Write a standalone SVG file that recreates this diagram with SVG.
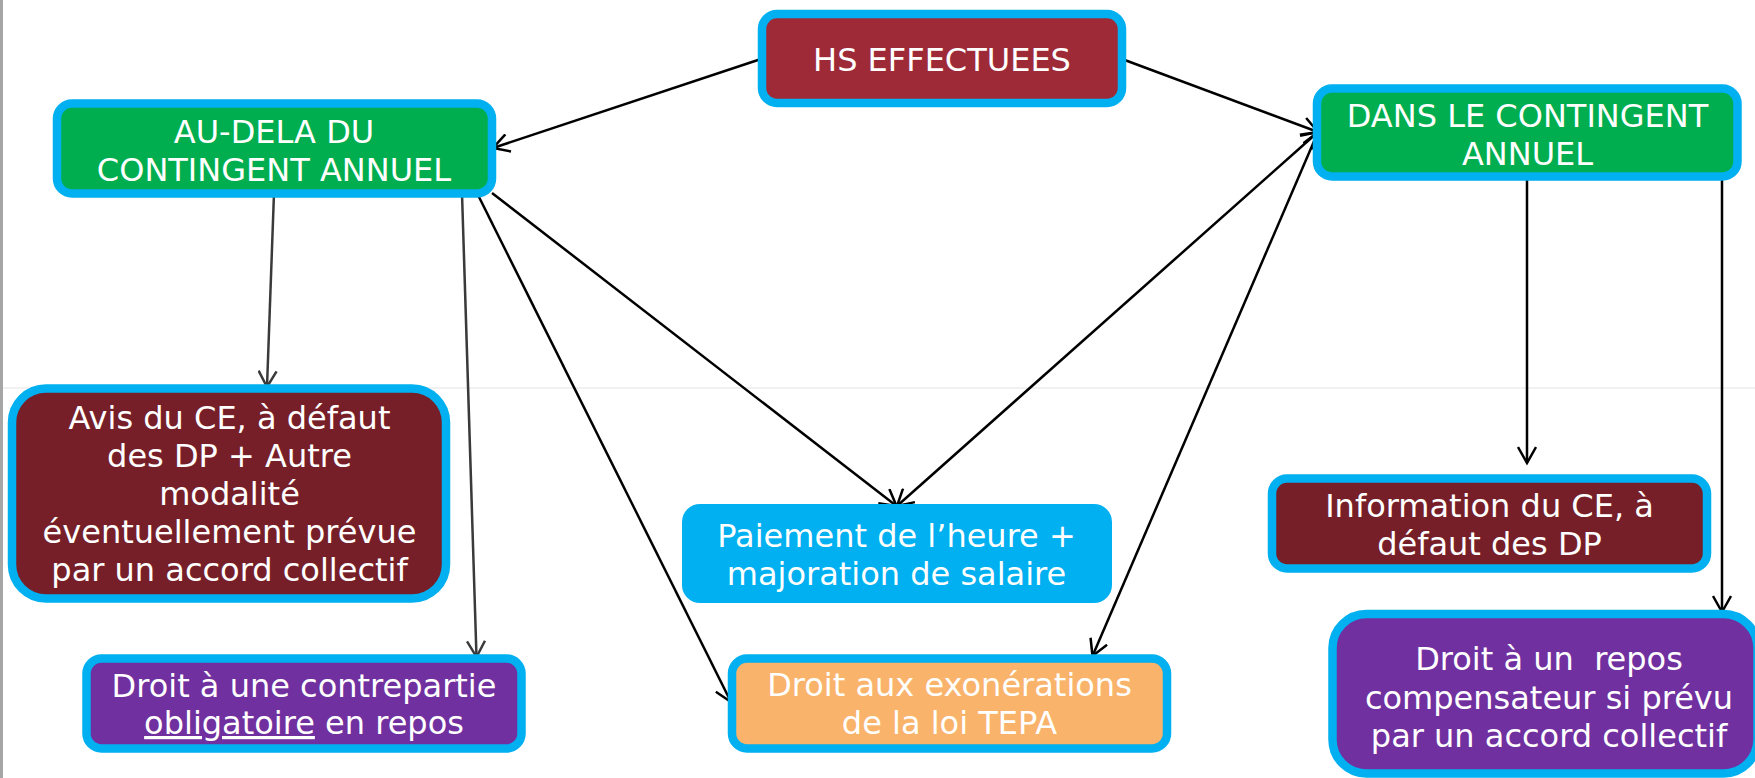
<svg xmlns="http://www.w3.org/2000/svg" width="1755" height="778" viewBox="0 0 1755 778">
<style>
.bd{stroke:#00B0F0;stroke-width:8.5}
.t{font-family:"DejaVu Sans","Verdana",sans-serif;font-size:32px;fill:#FFFFFF;text-anchor:middle}
.c{fill:none;stroke:#000;stroke-width:2.5}
.g{stroke:#3a3a3a}
</style>
<defs>
<marker id="ah" viewBox="0 0 20 20" markerWidth="20" markerHeight="20" refX="17" refY="10" orient="auto-start-reverse" markerUnits="userSpaceOnUse">
<path d="M1,1 L17,10 L1,19" fill="none" stroke="#000" stroke-width="2.5"/>
</marker>
<marker id="ahg" viewBox="0 0 20 20" markerWidth="20" markerHeight="20" refX="17" refY="10" orient="auto-start-reverse" markerUnits="userSpaceOnUse">
<path d="M1,1 L17,10 L1,19" fill="none" stroke="#3a3a3a" stroke-width="2.5"/>
</marker>
</defs>
<rect x="0" y="0" width="1755" height="778" fill="#FFFFFF"/>
<line x1="2" y1="388" x2="1755" y2="388" stroke="#ececec" stroke-width="1.5"/>
<line x1="1.5" y1="0" x2="1.5" y2="778" stroke="#a6a6a6" stroke-width="3"/>

<g id="connectors">
<path class="c" d="M761,59 L493,148" marker-end="url(#ah)"/>
<path class="c" d="M1122,59 L1318,132" marker-end="url(#ah)"/>
<path class="c g" d="M274,193 L267,387" marker-end="url(#ahg)"/>
<path class="c g" d="M462,193 L476.5,657" marker-end="url(#ahg)"/>
<path class="c" d="M477,193 L731,702" marker-end="url(#ah)"/>
<path class="c" d="M492,193 L896.5,506" marker-end="url(#ah)"/>
<path class="c" d="M1318,132 L897,506" marker-start="url(#ah)" marker-end="url(#ah)"/>
<path class="c" d="M1318,132 L1092.5,656" marker-start="url(#ah)" marker-end="url(#ah)"/>
<path class="c" d="M1527,179 L1527,463" marker-end="url(#ah)"/>
<path class="c" d="M1722,179 L1722,612" marker-end="url(#ah)"/>
</g>

<g id="hs">
<rect class="bd" x="762" y="14" width="360" height="89" rx="15" fill="#9E2A38"/>
<text class="t" x="942" y="71">HS EFFECTUEES</text>
</g>

<g id="audela">
<rect class="bd" x="57" y="103.5" width="435" height="90" rx="15" fill="#00AE4F"/>
<text class="t" x="274" y="143">AU-DELA DU</text>
<text class="t" x="274" y="180.5">CONTINGENT ANNUEL</text>
</g>

<g id="dans">
<rect class="bd" x="1317" y="88.5" width="420.5" height="88" rx="15" fill="#00AE4F"/>
<text class="t" x="1527.5" y="127">DANS LE CONTINGENT</text>
<text class="t" x="1527.5" y="164.5">ANNUEL</text>
</g>

<g id="avis">
<rect class="bd" x="12" y="388.5" width="434" height="210" rx="34" fill="#771F29"/>
<text class="t" x="229.5" y="429">Avis du CE, à défaut</text>
<text class="t" x="229.5" y="467">des DP + Autre</text>
<text class="t" x="229.5" y="505">modalité</text>
<text class="t" x="229.5" y="543">éventuellement prévue</text>
<text class="t" x="229.5" y="581">par un accord collectif</text>
</g>

<g id="contrepartie">
<rect class="bd" x="86.5" y="658.5" width="435" height="90" rx="15" fill="#7030A0"/>
<text class="t" x="304" y="697">Droit à une contrepartie</text>
<text class="t" x="304" y="734"><tspan text-decoration="underline">obligatoire</tspan> en repos</text>
</g>

<g id="paiement">
<rect x="682" y="504" width="430" height="99" rx="18" fill="#00B0F0"/>
<text class="t" x="896.5" y="547">Paiement de l’heure +</text>
<text class="t" x="896.5" y="585">majoration de salaire</text>
</g>

<g id="tepa">
<rect class="bd" x="732" y="658.5" width="435" height="90" rx="15" fill="#F9B36B"/>
<text class="t" x="949.5" y="696">Droit aux exonérations</text>
<text class="t" x="949.5" y="734">de la loi TEPA</text>
</g>

<g id="information">
<rect class="bd" x="1272" y="478.5" width="435" height="90" rx="15" fill="#771F29"/>
<text class="t" x="1489.5" y="517">Information du CE, à</text>
<text class="t" x="1489.5" y="554.5">défaut des DP</text>
</g>

<g id="repos">
<rect class="bd" x="1332.5" y="614" width="425" height="159.5" rx="34" fill="#7030A0"/>
<text class="t" x="1549" y="670">Droit à un&#160; repos</text>
<text class="t" x="1549" y="709">compensateur si prévu</text>
<text class="t" x="1549" y="747">par un accord collectif</text>
</g>
</svg>
